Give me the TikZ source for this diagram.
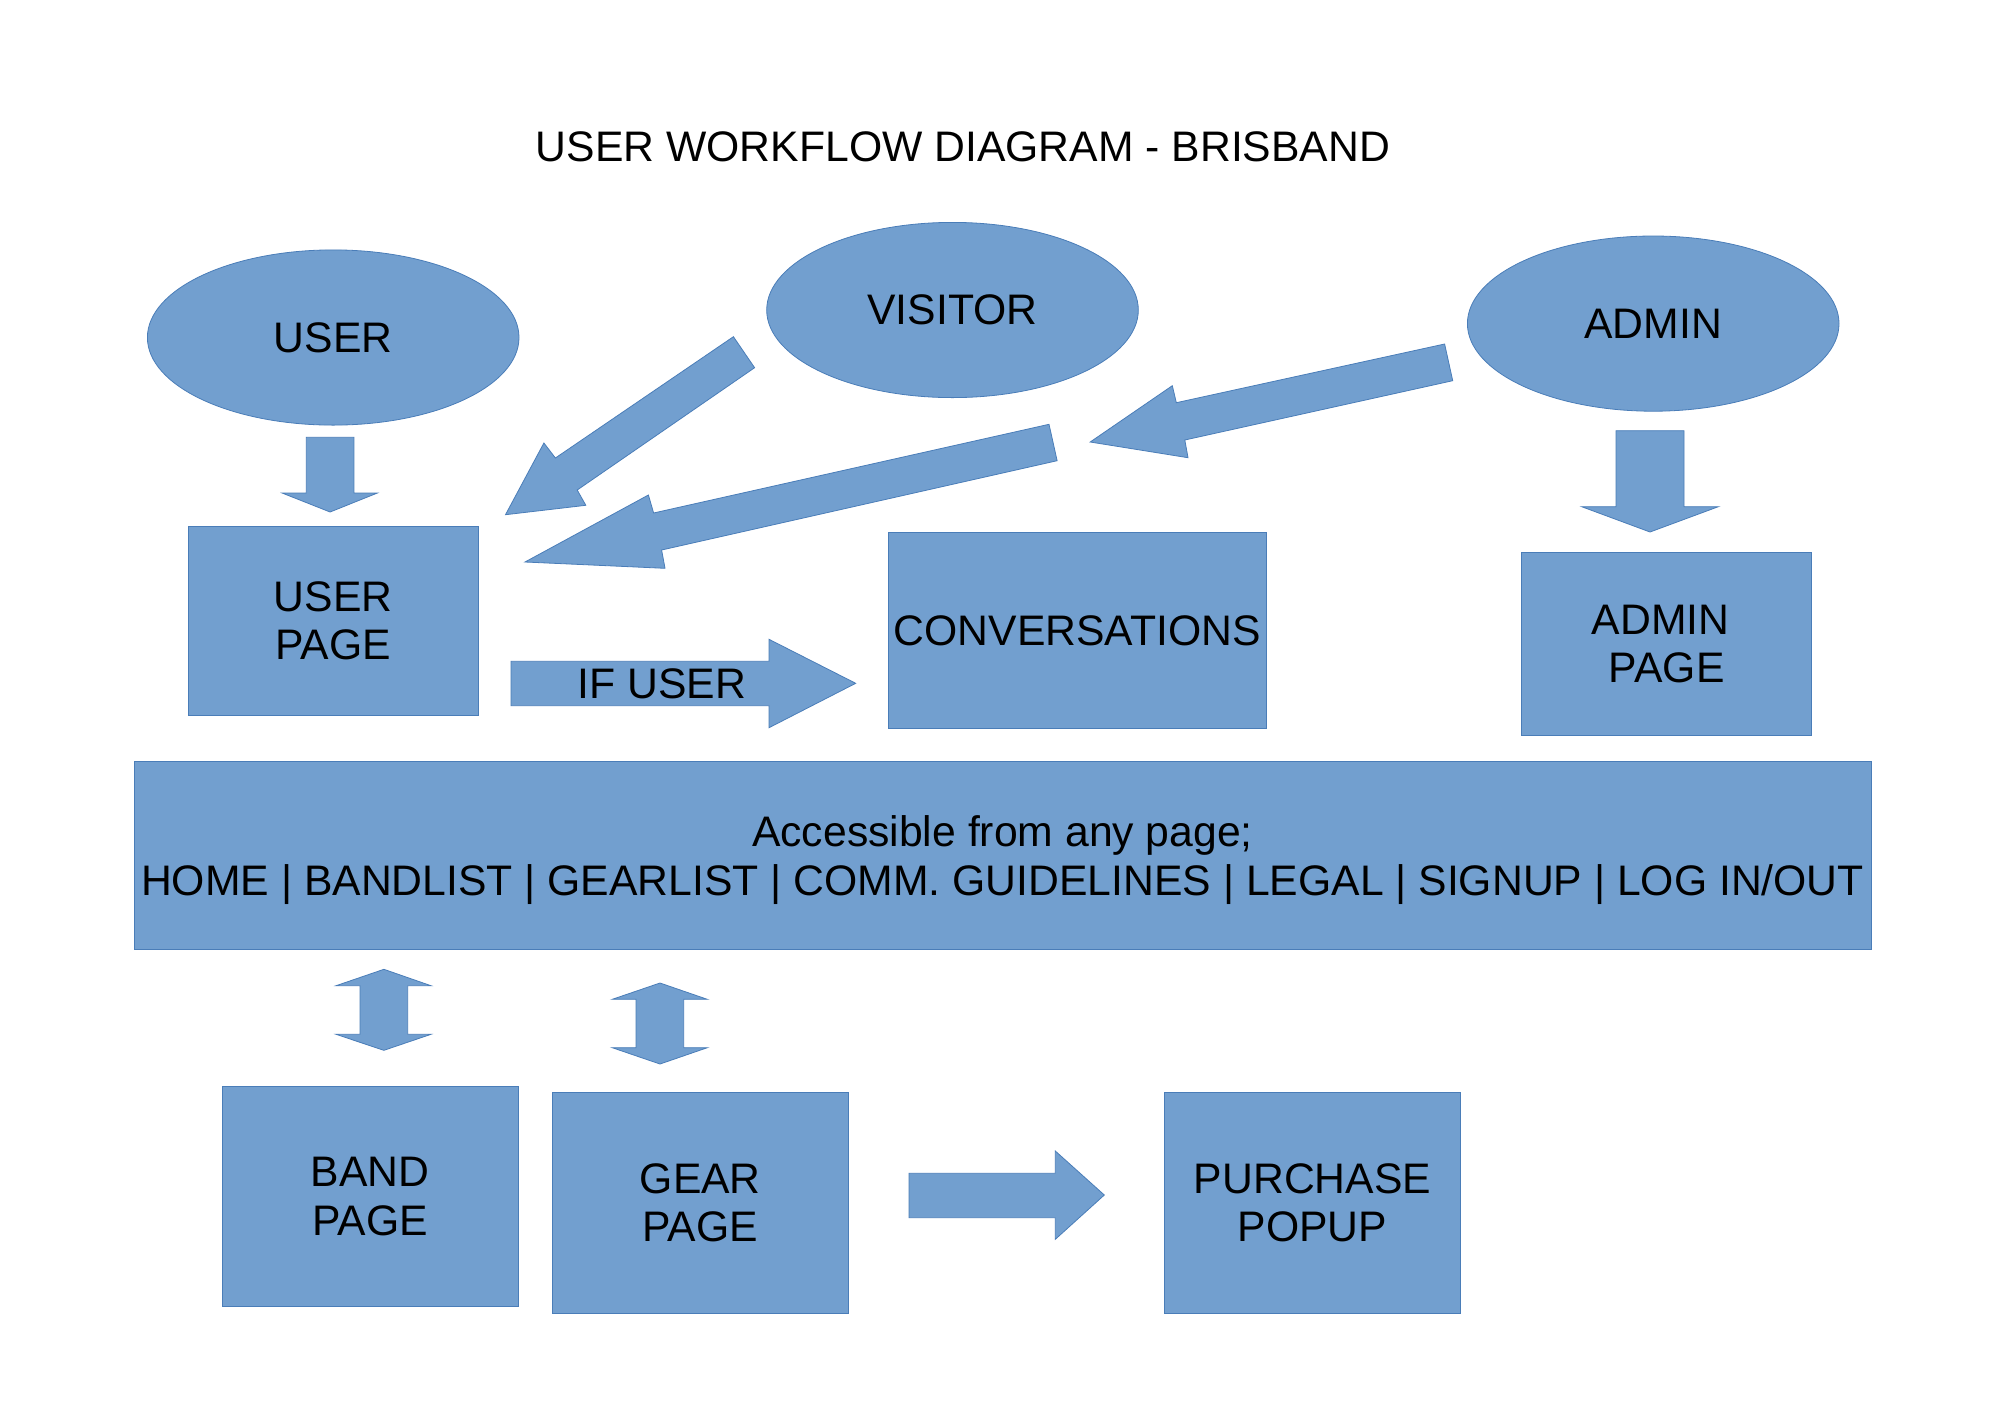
\documentclass[tikz,border=0pt]{standalone}
\usepackage{fontspec}
\setmainfont{Liberation Sans}
\usetikzlibrary{shapes.geometric}
\definecolor{fillblue}{HTML}{729FCF}
\definecolor{lineblue}{HTML}{4A7DB8}
\tikzset{
  txt/.style={font=\fontsize{21.35pt}{24.2pt}\selectfont, text=black, inner sep=0pt, align=center},
  oval/.style={txt, ellipse, fill=fillblue, draw=lineblue, line width=0.4pt, minimum width=185.8pt, minimum height=87.6pt},
  blk/.style={txt, rectangle, fill=fillblue, draw=lineblue, line width=0.4pt},
  barrow/.style={fill=fillblue, draw=lineblue, line width=0.4pt, line join=miter}
}
\begin{document}
\begin{tikzpicture}[x=0.5pt, y=-0.5pt]
\useasboundingbox[fill=white] (0,0) rectangle (2000,1414);

% title
\node[txt] (title) at (963,147) {USER WORKFLOW DIAGRAM - BRISBAND};

% actors
\node[oval] (user) at (333.2,337.5) {USER};
\node[oval] (visitor) at (952.5,310) {VISITOR};
\node[oval] (admin) at (1653.2,323.6) {ADMIN};

% pages
\node[blk, minimum width=145.2pt, minimum height=94.5pt] (userpage) at (333.2,620.5) {USER\\PAGE};
\node[blk, minimum width=188.9pt, minimum height=97.8pt] (conv) at (1077.2,630.5) {CONVERSATIONS};
\node[blk, minimum width=145pt, minimum height=91.2pt] (adminpage) at (1666.7,643.9) {ADMIN\hspace*{0.278em}\\PAGE};
\node[blk, minimum width=868.5pt, minimum height=94.2pt] (band) at (1002.5,855.2) {};
\node[txt] (bandtext) at (1002.5,860)
  {Accessible from any page;\\HOME | BANDLIST | GEARLIST | COMM. GUIDELINES | LEGAL | SIGNUP | LOG IN/OUT};
\node[blk, minimum width=148pt, minimum height=110.3pt] (bandpage) at (370,1196.5) {BAND\\PAGE};
\node[blk, minimum width=148pt, minimum height=110.3pt] (gearpage) at (700.3,1203) {GEAR\\PAGE};
\node[blk, minimum width=148pt, minimum height=110.3pt] (purchase) at (1312.5,1203) {PURCHASE\\POPUP};

% USER -> USER PAGE
\draw[barrow] (306.3,437.3) -- (353.9,437.3) -- (353.9,493) -- (377.4,493) -- (330.1,512) -- (282.1,493) -- (306.3,493) -- cycle;
% ADMIN -> ADMIN PAGE
\draw[barrow] (1616,430.7) -- (1684,430.7) -- (1684,506.7) -- (1718.3,506.7) -- (1650,532) -- (1581.7,506.7) -- (1616,506.7) -- cycle;
% VISITOR -> USER PAGE (steep)
\draw[barrow] (733.4,336.7) -- (555.4,458) -- (543.9,443) -- (505.5,514.7) -- (585.8,505.3) -- (577.2,490) -- (754.6,367.7) -- cycle;
% long arrow -> USER PAGE
\draw[barrow] (1049,424.3) -- (653.6,513) -- (648.4,495) -- (525,562) -- (665,568.3) -- (661.6,550) -- (1057.1,460.7) -- cycle;
% ADMIN -> left
\draw[barrow] (1444.6,344) -- (1176.3,402.7) -- (1172.3,385.7) -- (1090.2,442) -- (1188,457.7) -- (1184.8,440) -- (1452.7,380.7) -- cycle;
% IF USER arrow
\draw[barrow] (511,661.3) -- (769,661.3) -- (769,639.3) -- (855.7,683.3) -- (769,727.7) -- (769,705.7) -- (511,705.7) -- cycle;
\node[txt] (ifuser) at (662,684) {IF USER};
% double arrows
\draw[barrow] (360,985.7) -- (336,985.7) -- (383.9,969.3) -- (431,985.7) -- (407.7,985.7) -- (407.7,1034.3) -- (431,1034.3) -- (383.9,1050.3) -- (336,1034.3) -- (360,1034.3) -- cycle;
\draw[barrow] (636,999.3) -- (612.3,999.3) -- (660,983) -- (707.3,999.3) -- (683.7,999.3) -- (683.7,1047.7) -- (707.3,1047.7) -- (660,1064) -- (612.3,1047.7) -- (636,1047.7) -- cycle;
% GEAR PAGE -> PURCHASE
\draw[barrow] (909,1173.3) -- (1055.3,1173.3) -- (1055.3,1151) -- (1104.3,1195) -- (1055.3,1239.3) -- (1055.3,1217.7) -- (909,1217.7) -- cycle;
\end{tikzpicture}
\end{document}
